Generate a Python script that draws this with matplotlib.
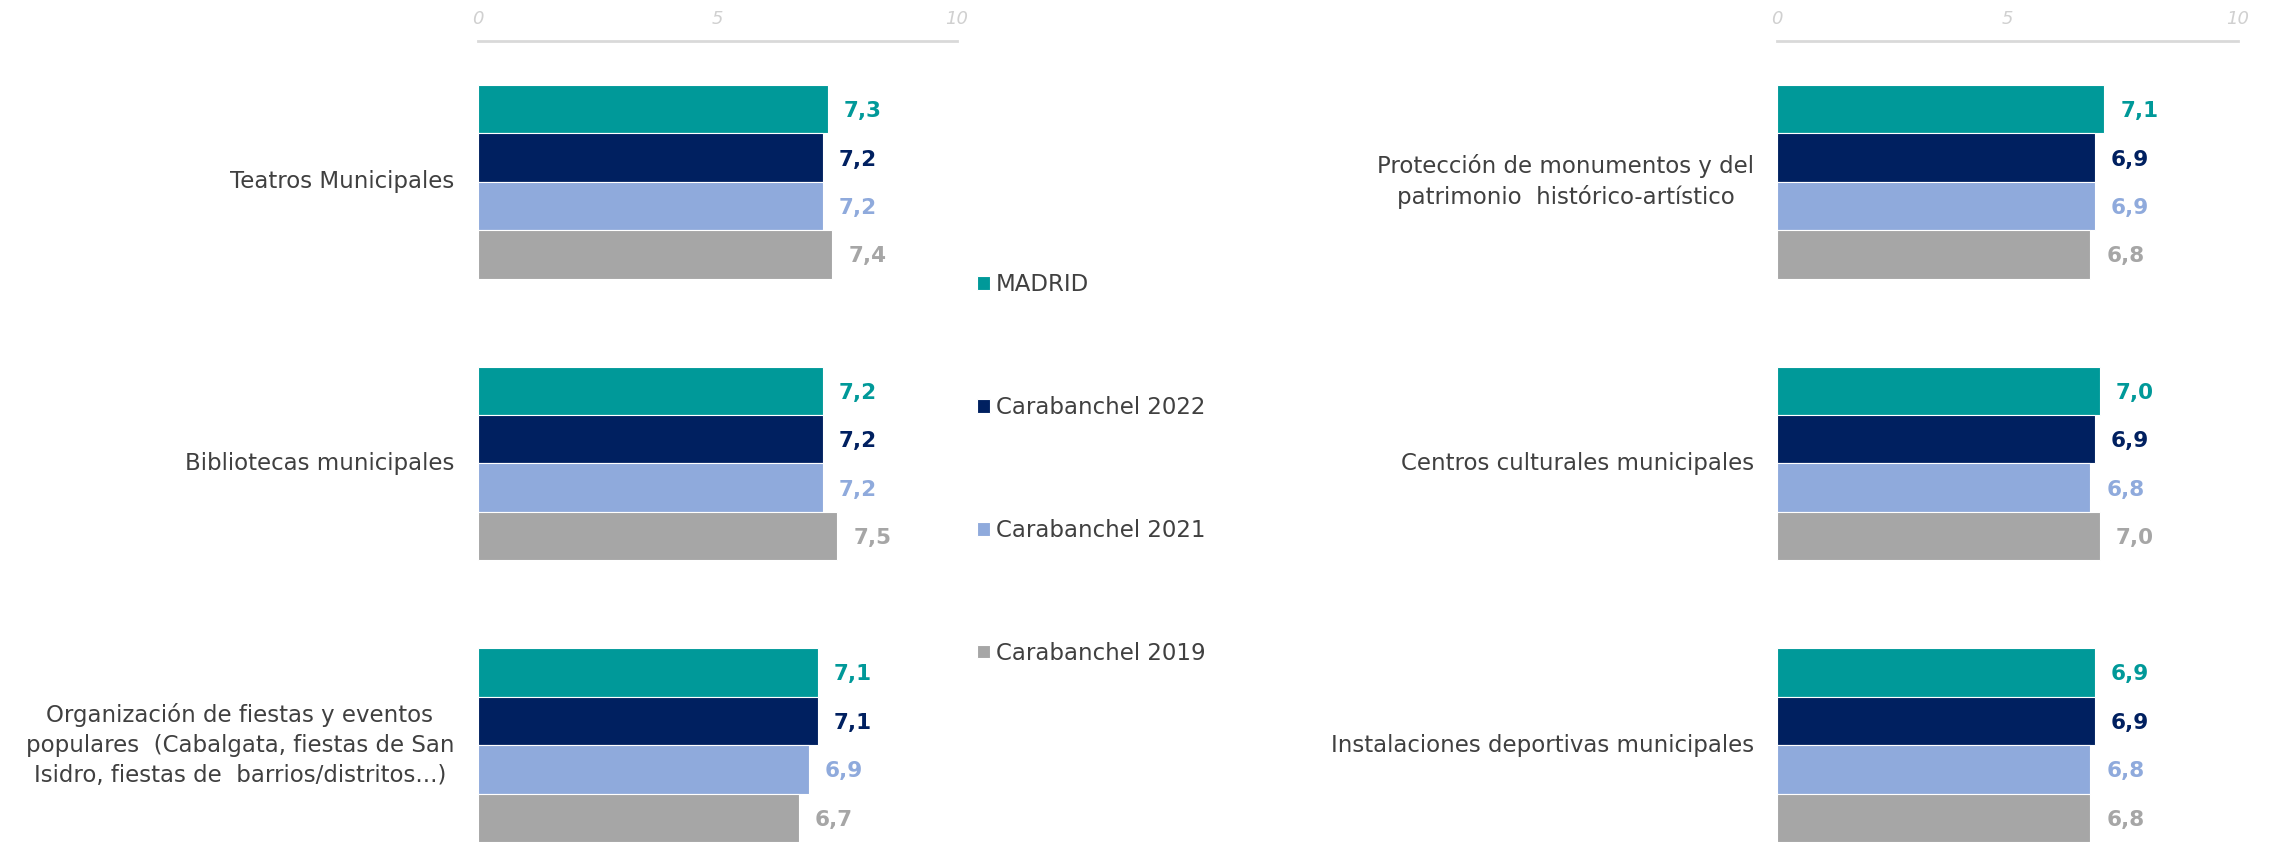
import numpy as np
import matplotlib.pyplot as plt

# data
series = ["MADRID", "Carabanchel 2022", "Carabanchel 2021", "Carabanchel 2019"]
colors = ["#009999", "#002060", "#8FAADC", "#A6A6A6"]

left_cats = ["Teatros Municipales",
             "Bibliotecas municipales",
             "Organización de fiestas y eventos\npopulares  (Cabalgata, fiestas de San\nIsidro, fiestas de  barrios/distritos...)"]
left_vals = [[7.3, 7.2, 7.1],   # MADRID
             [7.2, 7.2, 7.1],   # Carabanchel 2022
             [7.2, 7.2, 6.9],   # Carabanchel 2021
             [7.4, 7.5, 6.7]]   # Carabanchel 2019

right_cats = ["Protección de monumentos y del\npatrimonio  histórico-artístico",
              "Centros culturales municipales",
              "Instalaciones deportivas municipales"]
right_vals = [[7.1, 7.0, 6.9],
              [6.9, 6.9, 6.9],
              [6.9, 6.8, 6.8],
              [6.8, 7.0, 6.8]]

ticks = [0, 5, 10]

plt.rcParams['font.family'] = ['DejaVu Sans']

W, H = 2272, 842
fig = plt.figure(figsize=(W / 100, H / 100), dpi=100)

bar_h = 0.172
top_px, bot_px = 41, 842


def panel(x0_px, w_px, cats, vals):
    ax = fig.add_axes([x0_px / W, 1 - bot_px / H, w_px / W, (bot_px - top_px) / H])
    y = np.arange(len(cats))
    bars = []
    for i, (name, col) in enumerate(zip(series, colors)):
        off = (i - 1.5) * bar_h
        b = ax.barh(y + off, vals[i], height=bar_h, color=col, label=name,
                    edgecolor='white', linewidth=0.8)
        bars.append(b)
        for yy, v in zip(y + off, vals[i]):
            ax.annotate(f"{v:.1f}".replace('.', ','), (v, yy), xytext=(16, -2),
                        textcoords='offset pixels', ha='left', va='center',
                        color=col, fontsize=15.5, fontweight='bold')
    ax.set_xlim(0, 10)
    ax.set_ylim(2.344, -0.5)
    ax.xaxis.tick_top()
    ax.set_xticks(ticks)
    ax.set_xticklabels([str(t) for t in ticks], fontsize=13, style='italic',
                       color='#D0D0D0')
    ax.tick_params(axis='x', length=0, pad=9)
    ax.set_yticks([])
    for s in ['left', 'right', 'bottom']:
        ax.spines[s].set_visible(False)
    ax.spines['top'].set_color('#D9D9D9')
    ax.spines['top'].set_linewidth(2)
    for yy, c in zip(y, cats):
        ax.text(-0.05, yy, c, transform=ax.get_yaxis_transform(), ha='right',
                va='center', multialignment='center', fontsize=16.5,
                color='#404040', linespacing=1.38)
    return ax, bars


axl, bars = panel(478, 479, left_cats, left_vals)
axr, _ = panel(1777, 461, right_cats, right_vals)

fig.legend(handles=bars, loc='center left', bbox_to_anchor=(966 / W, 1 - 469 / H),
           frameon=False, fontsize=16.5, handlelength=0.55, handleheight=0.55,
           handletextpad=0.25, labelspacing=4.35, borderpad=0, labelcolor='#404040')

fig.savefig("out.png", dpi=100)
